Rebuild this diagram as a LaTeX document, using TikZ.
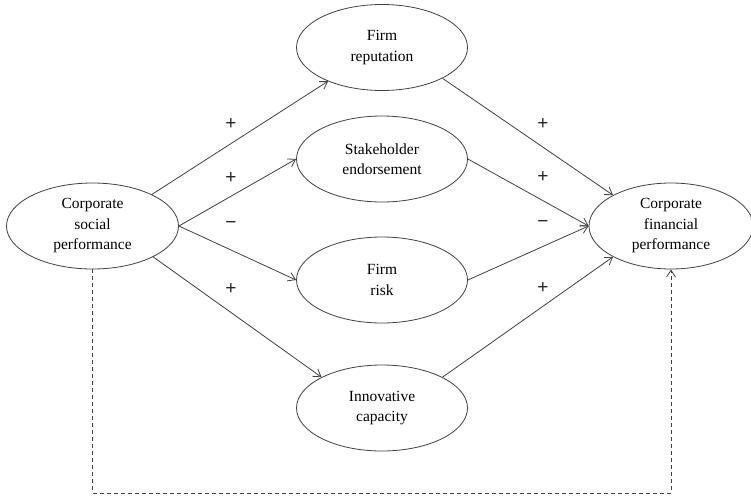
\documentclass[tikz,border=0pt]{standalone}
\usepackage{fontspec}
\setmainfont{Liberation Serif}
\newfontfamily\signfont{Liberation Sans}
\usetikzlibrary{shapes.geometric,arrows.meta,positioning}

\begin{document}
\begin{tikzpicture}[
  x=1pt, y=-1pt,
  every node/.style={font=\fontsize{15.5}{20.5}\selectfont},
  var/.style={draw=black!75, ellipse, minimum width=171pt, minimum height=86pt, align=center, inner sep=0pt, line width=0.8pt},
  arr/.style={-{Straight Barb[length=7pt,width=9pt]}, draw=black!75, line width=0.8pt},
  dsh/.style={arr, dash pattern=on 4pt off 3pt},
  sgn/.style={font=\signfont\fontsize{19}{19}\selectfont, text=black!85, inner sep=0pt}
]
\useasboundingbox (0,0) rectangle (751,498);

\node[var, minimum width=172pt] (csp) at (92.5,226) {Corporate\\social\\performance};
\node[var] (rep) at (382,47.5) {Firm\\reputation};
\node[var] (stake) at (382,159) {Stakeholder\\endorsement};
\node[var] (risk) at (382,280) {Firm\\risk};
\node[var] (innov) at (382,408) {Innovative\\capacity};
\node[var, minimum width=164pt] (cfp) at (671,226) {Corporate\\financial\\performance};
\coordinate (dl) at (92.5,493);

% signs, left
\node[sgn] (s1) at (231,124) {+};
\node[sgn] (s2) at (231,178) {+};
\node[sgn] (s3) at (231,225) {−};
\node[sgn] (s4) at (231,289) {+};
% signs, right
\node[sgn] (t1) at (543,124) {+};
\node[sgn] (t2) at (543,177) {+};
\node[sgn] (t3) at (543,224) {−};
\node[sgn] (t4) at (543,288) {+};

\draw[arr] (csp.28) -- (rep.212);
\draw[arr] (csp.east) -- (stake.west);
\draw[arr] (csp.east) -- (risk.west);
\draw[arr] (csp.-27) -- (innov.153);
\draw[arr] (rep.-27) -- (cfp.152);
\draw[arr] (stake.east) -- (cfp.west);
\draw[arr] (risk.east) -- (cfp.west);
\draw[arr] (innov.27) -- (cfp.208);
\draw[dsh] (csp.south) -- (dl) -| (cfp.south);
\end{tikzpicture}
\end{document}
